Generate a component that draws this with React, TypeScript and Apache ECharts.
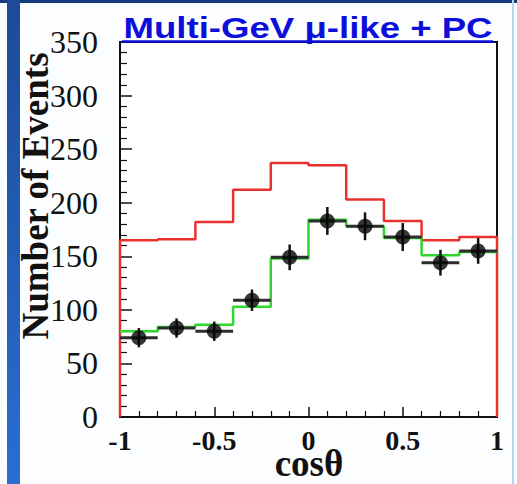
import React, { useEffect, useRef } from "react";
import * as echarts from "echarts";

// cos(theta) bin centres, bin width 0.2
const binCenters = [-0.9, -0.7, -0.5, -0.3, -0.1, 0.1, 0.3, 0.5, 0.7, 0.9];
const binWidth = 0.2;
// MC without oscillation (red)
const mcNoOsc = [165, 166, 182, 212, 237, 235, 203, 183, 165, 168];
// MC with oscillation (green)
const mcOsc = [80, 84, 86, 103, 148, 184, 178, 167, 151, 154];
// observed events and their statistical errors
const dataCounts = [74, 83, 80, 109, 149, 183, 178, 168, 144, 155];
const dataErrors = [9, 9, 9, 10, 12, 13, 13, 13, 12, 12];

const xRange = [-1, 1];
const yRange = [0, 350];

const titleText = "Multi-GeV \u03bc-like + PC";
const yTitle = "Number of Events";
const xTitle = "cos\u03b8";

function stepPoints(vals: number[], closeToZero: boolean): number[][] {
  const pts: number[][] = [];
  if (closeToZero) pts.push([binCenters[0] - binWidth / 2, 0]);
  vals.forEach((v, i) => {
    pts.push([binCenters[i] - binWidth / 2, v]);
    pts.push([binCenters[i] + binWidth / 2, v]);
  });
  if (closeToZero) pts.push([binCenters[binCenters.length - 1] + binWidth / 2, 0]);
  return pts;
}

export default function App() {
  const ref = useRef<HTMLDivElement>(null);

  useEffect(() => {
    if (!ref.current) return;
    const chart = echarts.init(ref.current, null, { renderer: "svg" });
    const serif = "Liberation Serif";
    const sans = "Liberation Sans";

    chart.setOption({
      animation: false,
      backgroundColor: "#fbfdff",
      grid: {
        left: 120,
        right: 20,
        top: 42,
        bottom: 67,
        show: true,
        backgroundColor: "#ffffff",
        borderColor: "#111",
        borderWidth: 2,
      },
      xAxis: {
        type: "value",
        min: xRange[0],
        max: xRange[1],
        interval: 0.5,
        axisLine: { onZero: false, lineStyle: { color: "#111", width: 2 } },
        axisTick: { inside: true, length: 10, lineStyle: { color: "#111", width: 1.5 } },
        minorTick: { show: true, splitNumber: 5, length: 6, lineStyle: { color: "#111", width: 1.2 } },
        splitLine: { show: false },
        minorSplitLine: { show: false },
        axisLabel: {
          color: "#111",
          fontFamily: serif,
          fontWeight: "bold",
          fontSize: 28,
          margin: 9,
        },
      },
      yAxis: {
        type: "value",
        min: yRange[0],
        max: yRange[1],
        interval: 50,
        axisLine: { onZero: false, lineStyle: { color: "#111", width: 2 } },
        axisTick: { inside: true, length: 12, lineStyle: { color: "#111", width: 1.5 } },
        minorTick: { show: true, splitNumber: 5, length: 7, lineStyle: { color: "#111", width: 1.2 } },
        splitLine: { show: false },
        minorSplitLine: { show: false },
        axisLabel: {
          color: "#111",
          fontFamily: serif,
          fontSize: 32,
          margin: 22,
        },
      },
      series: [
        {
          type: "line",
          data: stepPoints(mcNoOsc, true),
          symbol: "none",
          lineStyle: { color: "#e8312f", width: 2.5 },
          z: 3,
        },
        {
          type: "line",
          data: stepPoints(mcOsc, false),
          symbol: "none",
          lineStyle: { color: "#2fd62f", width: 2.5 },
          z: 4,
        },
        {
          type: "custom",
          data: binCenters.map((c, i) => [c, dataCounts[i], dataErrors[i]]),
          z: 5,
          renderItem: (_params: any, api: any) => {
            const x = api.value(0);
            const y = api.value(1);
            const e = api.value(2);
            const l = api.coord([x - binWidth / 2, y]);
            const r = api.coord([x + binWidth / 2, y]);
            const t = api.coord([x, y + e]);
            const b = api.coord([x, y - e]);
            return {
              type: "group",
              children: [
                {
                  type: "line",
                  shape: { x1: l[0], y1: l[1], x2: r[0], y2: r[1] },
                  style: { stroke: "#2e2e2e", lineWidth: 3 },
                },
                {
                  type: "line",
                  shape: { x1: t[0], y1: t[1], x2: b[0], y2: b[1] },
                  style: { stroke: "#111", lineWidth: 2.5 },
                },
              ],
            };
          },
        },
        {
          type: "scatter",
          data: binCenters.map((c, i) => [c, dataCounts[i]]),
          symbol: "circle",
          symbolSize: 15,
          itemStyle: { color: "#050505" },
          z: 6,
        },
      ],
      graphic: [
        {
          type: "rect",
          shape: { x: 0, y: 0, width: 517, height: 3 },
          style: { fill: "#173a7c" },
          z: 100,
        },
        {
          type: "rect",
          shape: { x: 7, y: 0, width: 13, height: 484 },
          style: {
            fill: new echarts.graphic.LinearGradient(0, 0, 0, 1, [
              { offset: 0, color: "#1c4b98" },
              { offset: 1, color: "#2a6ed2" },
            ]),
          },
          z: 100,
        },
        {
          type: "rect",
          shape: { x: 512, y: 0, width: 2, height: 484 },
          style: { fill: "#b5d6f2" },
          z: 100,
        },
        {
          type: "text",
          x: 308,
          y: 28,
          scaleX: 1.22,
          style: {
            text: titleText,
            fontFamily: sans,
            fontWeight: "bold",
            fontSize: 30,
            fill: "#0d0ddc",
            textAlign: "center",
            textVerticalAlign: "middle",
          },
          z: 101,
        },
        {
          type: "line",
          shape: { x1: 122, y1: 41.5, x2: 493, y2: 41.5 },
          style: { stroke: "#0d0ddc", lineWidth: 2.5 },
          z: 101,
        },
        {
          type: "text",
          x: 35,
          y: 196,
          rotation: Math.PI / 2,
          style: {
            text: yTitle,
            fontFamily: serif,
            fontWeight: "bold",
            fontSize: 37,
            fill: "#111",
            textAlign: "center",
            textVerticalAlign: "middle",
          },
          z: 99,
        },
        {
          type: "text",
          x: 309,
          y: 463,
          style: {
            text: xTitle,
            fontFamily: serif,
            fontWeight: "bold",
            fontSize: 37,
            fill: "#111",
            textAlign: "center",
            textVerticalAlign: "middle",
          },
          z: 99,
        },
      ],
    });

    return () => chart.dispose();
  }, []);

  return (
    <div
      ref={ref}
      style={{ position: "fixed", left: 0, top: 0, width: 517, height: 484 }}
    />
  );
}
